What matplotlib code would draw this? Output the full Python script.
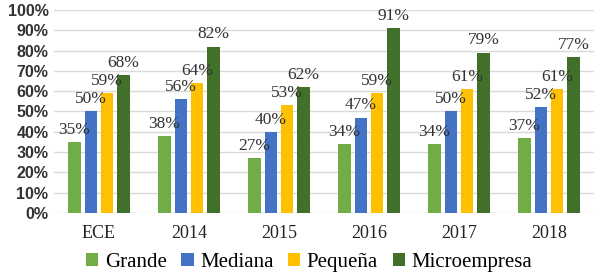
import matplotlib.pyplot as plt
import numpy as np

categories = ['ECE', '2014', '2015', '2016', '2017', '2018']
series = ['Grande', 'Mediana', 'Pequeña', 'Microempresa']
grande = [35, 38, 27, 34, 34, 37]
mediana = [50, 56, 40, 47, 50, 52]
pequena = [59, 64, 53, 59, 61, 61]
micro = [68, 82, 62, 91, 79, 77]
colors = ['#70AD47', '#4472C4', '#FFC000', '#41702B']

values = [grande, mediana, pequena, micro]

fig = plt.figure(figsize=(6, 2.78), dpi=100)
ax = fig.add_axes([0.09, 0.234, 0.90, 0.73])

x = np.arange(len(categories))
step = 0.181
width = 0.14
for i, (name, vals, c) in enumerate(zip(series, values, colors)):
    pos = x + (i - 1.5) * step
    ax.bar(pos, vals, width=width, color=c, label=name, zorder=3)
    for px, v in zip(pos, vals):
        ax.annotate(f'{v}%', (px, v), xytext=(0, 3), textcoords='offset points',
                    ha='center', va='bottom', fontsize=12.5, color='#333333',
                    family='Liberation Serif', zorder=4)

ax.set_ylim(0, 100)
ax.set_xlim(-0.5, len(categories) - 0.5)
ax.set_yticks(range(0, 101, 10))
ax.set_yticklabels([f'{t}%' for t in range(0, 101, 10)],
                   fontsize=11.5, fontweight='bold', family='Liberation Sans', color='#333333')
ax.set_xticks(x)
ax.set_xticklabels(categories, fontsize=13, family='Liberation Serif', color='#222222')
ax.tick_params(axis='both', length=0)
ax.tick_params(axis='x', pad=9)
ax.tick_params(axis='y', pad=4)
ax.grid(axis='y', color='#D9D9D9', linewidth=1, zorder=0)
for s in ax.spines.values():
    s.set_visible(False)

fig.legend(loc='center', bbox_to_anchor=(0.515, 0.055), ncol=4, frameon=False,
           prop={'family': 'Liberation Serif', 'size': 15},
           handlelength=0.6, handleheight=0.6, handletextpad=0.3, columnspacing=0.7)

fig.savefig('out.png', dpi=100)
